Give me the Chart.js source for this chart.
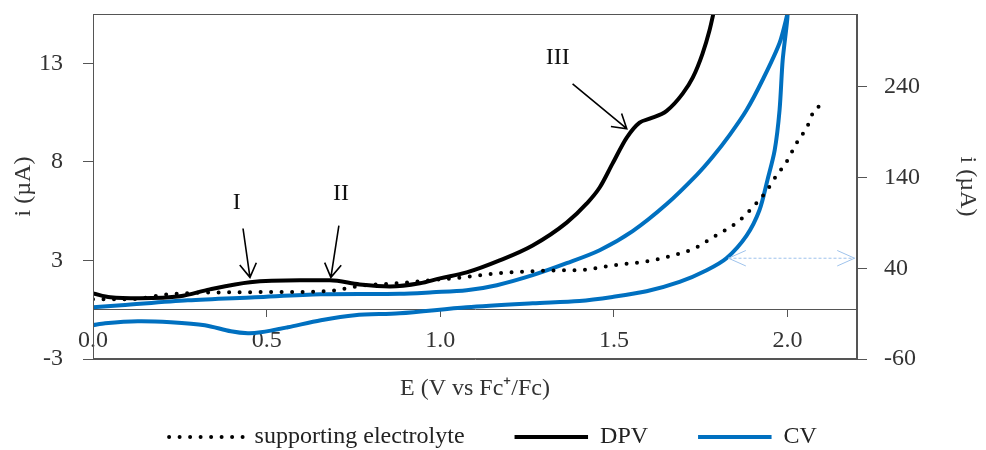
<!DOCTYPE html>
<html>
<head>
<meta charset="utf-8">
<script src="https://cdn.jsdelivr.net/npm/chart.js@4.4.1/dist/chart.umd.min.js"></script>
<style>
  html, body { margin: 0; padding: 0; background: #fff; }
  #chart { display: block; }
</style>
</head>
<body>
<canvas id="chart" width="986" height="450"></canvas>
<script>
// potential axis (V vs Fc+/Fc)
const eTicks = [0, 0.5, 1.0, 1.5, 2.0];

// left axis (DPV + supporting electrolyte), labels as printed on the figure
const leftTickValues = [-2, 3, 8, 13];
const leftTickLabels = ['-3', '3', '8', '13'];
// right axis (CV)
const rightTicks = [-60, 40, 140, 240];

// supporting electrolyte (dotted)
const bgE = [0, 0.106, 0.216, 0.368, 0.567, 0.682, 0.777, 0.875, 0.970, 1.065, 1.163, 1.258, 1.353, 1.416,
  1.496, 1.594, 1.680, 1.738, 1.784, 1.862, 1.899, 1.940, 1.968, 1.997, 2.026, 2.058, 2.072, 2.098];
const bgI = [1.03, 1.03, 1.28, 1.38, 1.40, 1.45, 1.73, 1.84, 1.99, 2.14, 2.34, 2.45, 2.50, 2.53,
  2.75, 2.95, 3.30, 3.66, 4.16, 5.03, 5.68, 6.54, 7.3, 8.0, 8.95, 9.84, 10.44, 10.95];

// DPV (black)
const dpvE = [0, 0.05, 0.135, 0.25, 0.336, 0.452, 0.596, 0.682, 0.768, 0.855, 0.941, 0.999, 1.076, 1.171,
  1.266, 1.364, 1.422, 1.459, 1.496, 1.537, 1.574, 1.603, 1.652, 1.698, 1.727, 1.755, 1.775, 1.79];
const dpvI = [1.33, 1.13, 1.08, 1.18, 1.53, 1.89, 1.99, 1.99, 1.78, 1.68, 1.84, 2.09, 2.39, 3.00,
  3.76, 4.92, 5.89, 6.70, 7.91, 9.23, 9.99, 10.19, 10.59, 11.46, 12.27, 13.48, 14.65, 15.8];

// CV (blue), forward scan up to the vertex at 2.0 V, then the return scan
const cvE = [0, 0.081, 0.273, 0.466, 0.656, 0.883, 0.978, 1.076, 1.163, 1.266, 1.364, 1.459, 1.554, 1.652,
  1.738, 1.784, 1.833, 1.882, 1.928, 1.977, 2.0,
  1.986, 1.977, 1.963, 1.942, 1.919, 1.882, 1.824, 1.767, 1.689, 1.594, 1.496, 1.401, 1.266, 1.076,
  0.883, 0.754, 0.656, 0.561, 0.483, 0.446, 0.397, 0.322, 0.224, 0.129, 0.035, 0];
const cvI = [-3.0, -0.8, 4.7, 8.0, 11.3, 11.8, 13.5, 15.7, 21.3, 32.3, 45.5, 59.8, 80.8, 110.6,
  142.5, 162.4, 186.6, 214.2, 247.3, 288.1, 320,
  269.3, 214.2, 170.1, 137.0, 103.9, 76.0, 51.0, 37.8, 24.9, 14.6, 8.4, 3.95, 1.4, -3.0,
  -9.6, -11.8, -17.3, -25.0, -30.6, -31.7, -29.5, -22.8, -19.5, -18.4, -20.6, -22.8];

// peak annotations (left axis units)
const peakNotes = [
  { text: 'I', tx: 0.414, ty: 5.94, from: [0.432, 4.62], to: [0.452, 2.14] },
  { text: 'II', tx: 0.714, ty: 6.39, from: [0.708, 4.77], to: [0.685, 2.14] },
  { text: 'III', tx: 1.338, ty: 13.28, from: [1.381, 11.96], to: [1.537, 9.68] }
];
// double arrow pointing CV to the right axis (right axis units)
const cvAxisArrow = { y: 51, x1: 1.83, x2: 2.193 };

const toPoints = (xs, ys) => xs.map((x, i) => ({ x, y: ys[i] }));

const SERIF = "'Liberation Serif', 'Times New Roman', serif";
const TEXT = '#333';
const AXIS = '#555';
Chart.defaults.font.family = SERIF;
Chart.defaults.font.size = 24;
Chart.defaults.color = TEXT;

function arrowHead(ctx, x1, y1, x2, y2, len, ang) {
    const a = Math.atan2(y2 - y1, x2 - x1);
    ctx.moveTo(x2 - len * Math.cos(a - ang), y2 - len * Math.sin(a - ang));
    ctx.lineTo(x2, y2);
    ctx.lineTo(x2 - len * Math.cos(a + ang), y2 - len * Math.sin(a + ang));
}

const framePlugin = {
    id: 'frame',
    afterDatasetsDraw(chart) {
        const { ctx, chartArea: a } = chart;
        ctx.save();
        ctx.strokeStyle = AXIS;
        ctx.lineWidth = 1;
        ctx.strokeRect(Math.round(a.left) + 0.5, Math.round(a.top) + 0.5,
            Math.round(a.right - a.left) - 1, Math.round(a.bottom - a.top) - 1);
        ctx.restore();
    }
};

const notesPlugin = {
    id: 'notes',
    afterDatasetsDraw(chart) {
        const { ctx } = chart;
        const sx = chart.scales.x, sy = chart.scales.y, sy1 = chart.scales.y1;
        ctx.save();
        ctx.strokeStyle = '#000';
        ctx.fillStyle = '#111';
        ctx.lineWidth = 1.6;
        ctx.font = '24px ' + SERIF;
        ctx.textAlign = 'center';
        ctx.textBaseline = 'middle';
        peakNotes.forEach((n) => {
            const x1 = sx.getPixelForValue(n.from[0]), y1 = sy.getPixelForValue(n.from[1]);
            const x2 = sx.getPixelForValue(n.to[0]), y2 = sy.getPixelForValue(n.to[1]);
            ctx.beginPath();
            ctx.moveTo(x1, y1);
            ctx.lineTo(x2, y2);
            arrowHead(ctx, x1, y1, x2, y2, 16, 0.55);
            ctx.stroke();
            ctx.fillText(n.text, sx.getPixelForValue(n.tx), sy.getPixelForValue(n.ty));
        });

        const ay = sy1.getPixelForValue(cvAxisArrow.y);
        const ax1 = sx.getPixelForValue(cvAxisArrow.x1), ax2 = sx.getPixelForValue(cvAxisArrow.x2);
        ctx.strokeStyle = '#9fc3ec';
        ctx.lineWidth = 1;
        ctx.setLineDash([3, 2]);
        ctx.beginPath();
        ctx.moveTo(ax1, ay);
        ctx.lineTo(ax2, ay);
        ctx.stroke();
        ctx.setLineDash([]);
        ctx.beginPath();
        arrowHead(ctx, ax2, ay, ax1, ay, 19, 0.42);
        arrowHead(ctx, ax1, ay, ax2, ay, 19, 0.42);
        ctx.stroke();
        ctx.restore();
    }
};

new Chart(document.getElementById('chart'), {
    type: 'line',
    data: {
        datasets: [
            {
                label: 'supporting electrolyte',
                data: toPoints(bgE, bgI),
                yAxisID: 'y',
                borderColor: '#000',
                backgroundColor: '#000',
                borderWidth: 4,
                borderDash: [0, 10.5],
                borderCapStyle: 'round',
                cubicInterpolationMode: 'monotone',
                pointRadius: 0
            },
            {
                label: 'DPV',
                data: toPoints(dpvE, dpvI),
                yAxisID: 'y',
                borderColor: '#000',
                backgroundColor: '#000',
                borderWidth: 4,
                cubicInterpolationMode: 'monotone',
                pointRadius: 0
            },
            {
                label: 'CV',
                data: toPoints(cvE, cvI),
                yAxisID: 'y1',
                borderColor: '#0070c0',
                backgroundColor: '#0070c0',
                borderWidth: 4,
                tension: 0.3,
                pointRadius: 0
            }
        ]
    },
    options: {
        responsive: false,
        animation: false,
        devicePixelRatio: 1,
        layout: { padding: { top: 14, bottom: -9, left: 0, right: 0 } },
        plugins: {
            legend: {
                position: 'bottom',
                labels: {
                    // zero-height box stroked with the dataset's dash = a line sample
                    boxWidth: 73.5,
                    boxHeight: 0,
                    padding: 50,
                    color: '#222',
                    font: { size: 24, family: SERIF }
                }
            },
            tooltip: { enabled: false }
        },
        scales: {
            x: {
                type: 'linear',
                min: 0,
                max: 2.2,
                position: { y: 0.5 },
                afterBuildTicks: (s) => { s.ticks = eTicks.map((v) => ({ value: v })); },
                afterFit: (s) => { s.paddingLeft = 0; s.paddingRight = 0; },
                ticks: { callback: (v) => Number(v).toFixed(1), padding: 10, color: TEXT },
                grid: { drawOnChartArea: false, tickLength: 7, color: AXIS },
                border: { color: AXIS }
            },
            xb: {
                type: 'linear',
                axis: 'x',
                position: 'bottom',
                min: 0,
                max: 2.2,
                ticks: { display: false },
                grid: { drawOnChartArea: false, drawTicks: false },
                border: { color: AXIS },
                title: { display: true, text: 'E (V vs Fc\u207A/Fc)', color: TEXT, padding: { top: 0, bottom: -28.4 } },
                afterFit: (s) => { s.height = 16; s.paddingLeft = 0; s.paddingRight = 0; }
            },
            y: {
                position: 'left',
                min: -2,
                max: 15.5,
                afterBuildTicks: (s) => { s.ticks = leftTickValues.map((v) => ({ value: v })); },
                afterFit: (s) => { s.width = 93; s.paddingTop = 0; s.paddingBottom = 0; },
                ticks: {
                    callback: (v) => leftTickLabels[leftTickValues.indexOf(v)],
                    padding: 20,
                    color: TEXT
                },
                grid: { drawOnChartArea: false, tickLength: 10, color: AXIS },
                border: { color: AXIS },
                title: { display: true, text: 'i (µA)', color: TEXT, padding: { top: 9, bottom: 0 } }
            },
            y1: {
                position: 'right',
                min: -60,
                max: 320,
                afterBuildTicks: (s) => { s.ticks = rightTicks.map((v) => ({ value: v })); },
                afterFit: (s) => { s.width = 129; s.paddingTop = 0; s.paddingBottom = 0; },
                ticks: { padding: 17, color: TEXT },
                grid: { drawOnChartArea: false, tickLength: 10, color: AXIS },
                border: { color: AXIS },
                title: { display: true, text: 'i (µA)', color: TEXT, padding: { top: 4, bottom: 0 } }
            }
        }
    },
    plugins: [framePlugin, notesPlugin]
});
</script>
</body>
</html>
